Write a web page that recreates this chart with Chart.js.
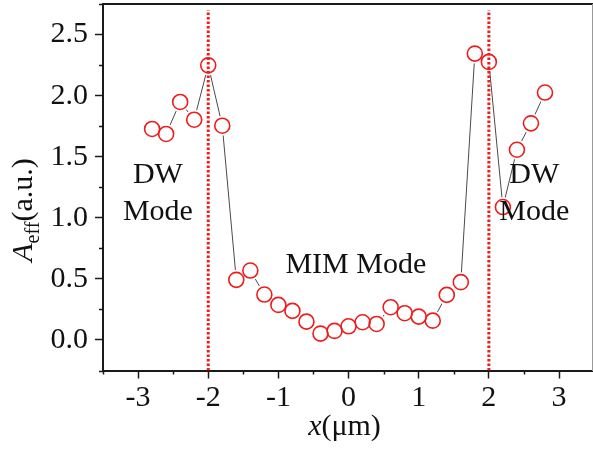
<!DOCTYPE html>
<html>
<head>
<meta charset="utf-8">
<script src="https://cdn.jsdelivr.net/npm/chart.js@4.4.1/dist/chart.umd.min.js"></script>
<style>
    html, body { margin: 0; padding: 0; background: #fff; overflow: hidden; }
    canvas { display: block; }
</style>
</head>
<body>
<canvas id="aeffChart" width="593" height="450"></canvas>
<script>
// Data
const xPositions = [-2.8, -2.6, -2.4, -2.2, -2.0, -1.8, -1.6, -1.4, -1.2, -1.0, -0.8, -0.6, -0.4, -0.2,
    0.0, 0.2, 0.4, 0.6, 0.8, 1.0, 1.2, 1.4, 1.6, 1.8, 2.0, 2.2, 2.4, 2.6, 2.8];
const aeffValues = [1.727, 1.686, 1.948, 1.803, 2.248, 1.754, 0.492, 0.568, 0.372, 0.287, 0.238, 0.150, 0.052, 0.074,
    0.112, 0.145, 0.131, 0.268, 0.219, 0.191, 0.158, 0.369, 0.473, 2.344, 2.276, 1.088, 1.557, 1.773, 2.025];
const xTickValues = [-3, -2, -1, 0, 1, 2, 3];
const yTickValues = [0, 0.5, 1.0, 1.5, 2.0, 2.5];
const boundaryX = [-2, 2];
const boundaryRange = [-0.25, 2.7];
const modeLabels = ['DW', 'Mode', 'MIM Mode', 'DW', 'Mode'];
const modeLabelX = [-2.717, -2.717, 0.104, 2.647, 2.647];
const modeLabelY = [1.287, 0.984, 0.549, 1.287, 0.984];

const RED = '#ee1c1c';
const AXIS = '#1a1a1a';
const SERIF = '"Liberation Serif", "Times New Roman", serif';

Chart.defaults.font.family = SERIF;
Chart.defaults.color = '#111';

const points = xPositions.map((x, i) => ({ x: x, y: aeffValues[i] }));

const boundarySets = boundaryX.map(bx => ({
    data: boundaryRange.map(v => ({ x: bx, y: v })),
    showLine: true,
    borderColor: RED,
    borderWidth: 3,
    borderDash: [2.5, 2],
    pointRadius: 0,
    order: 2
}));

// Minor ticks, axis titles and mode labels
const decorPlugin = {
    id: 'decor',
    afterDraw(chart) {
        const { ctx, chartArea, scales: { x, y } } = chart;
        ctx.save();

        ctx.strokeStyle = AXIS;
        ctx.lineWidth = 1.5;
        ctx.beginPath();
        for (let v = -3.5; v <= 3.5; v += 1) {
            const px = Math.round(x.getPixelForValue(v)) + 0.5;
            if (px > chartArea.right + 1) continue;
            ctx.moveTo(px, chartArea.bottom);
            ctx.lineTo(px, chartArea.bottom + 4);
        }
        for (let v = -0.25; v <= 2.76; v += 0.5) {
            const py = Math.round(y.getPixelForValue(v)) + 0.5;
            ctx.moveTo(chartArea.left, py);
            ctx.lineTo(chartArea.left - 4, py);
        }
        ctx.stroke();

        // mode labels
        ctx.fillStyle = '#111';
        ctx.font = '30px ' + SERIF;
        ctx.textAlign = 'center';
        ctx.textBaseline = 'alphabetic';
        modeLabels.forEach((t, i) => {
            ctx.fillText(t, x.getPixelForValue(modeLabelX[i]), y.getPixelForValue(modeLabelY[i]));
        });

        // x axis title: x(μm)
        ctx.textAlign = 'left';
        const italic = 'italic 30px ' + SERIF;
        const normal = '30px ' + SERIF;
        ctx.font = italic;
        const wx = ctx.measureText('x').width;
        ctx.font = normal;
        const wu = ctx.measureText('(μm)').width;
        const cx = (chartArea.left + chartArea.right) / 2 - 3;
        let sx = cx - (wx + wu) / 2;
        ctx.font = italic;
        ctx.fillText('x', sx, 435);
        ctx.font = normal;
        ctx.fillText('(μm)', sx + wx, 435);

        // y axis title: A_eff(a.u.)
        const sub = '20px ' + SERIF;
        ctx.font = italic;
        const wA = ctx.measureText('A').width;
        ctx.font = sub;
        const wE = ctx.measureText('eff').width;
        ctx.font = normal;
        const wP = ctx.measureText('(a.u.)').width;
        const total = wA + wE + wP;
        const cy = 210;
        ctx.translate(32, cy + total / 2);
        ctx.rotate(-Math.PI / 2);
        ctx.font = italic;
        ctx.fillText('A', 0, 0);
        ctx.font = sub;
        ctx.fillText('eff', wA, 7);
        ctx.font = normal;
        ctx.fillText('(a.u.)', wA + wE, 0);

        ctx.restore();
    }
};

const ctx = document.getElementById('aeffChart').getContext('2d');
new Chart(ctx, {
    type: 'scatter',
    data: {
        datasets: [
            {
                data: points,
                showLine: true,
                borderColor: '#4a4a4a',
                borderWidth: 1,
                pointRadius: 0,
                order: 4
            },
            {
                // white halo so the connecting line stops short of each marker
                data: points,
                showLine: false,
                pointRadius: 10,
                pointBackgroundColor: '#fff',
                pointBorderWidth: 0,
                order: 3
            },
            ...boundarySets,
            {
                data: points,
                showLine: false,
                pointRadius: 7.5,
                pointBackgroundColor: 'rgba(0,0,0,0)',
                pointBorderColor: RED,
                pointBorderWidth: 1.6,
                order: 1
            }
        ]
    },
    options: {
        responsive: false,
        animation: false,
        events: [],
        layout: { padding: 0, autoPadding: false },
        plugins: { legend: { display: false }, tooltip: { enabled: false } },
        scales: {
            x: {
                type: 'linear',
                position: 'bottom',
                min: -3.5,
                max: 3.47,
                afterBuildTicks: s => { s.ticks = xTickValues.map(v => ({ value: v })); },
                ticks: { font: { size: 30 }, color: '#111', padding: 2, maxRotation: 0, autoSkip: false,
                    callback: v => String(v) },
                grid: { drawOnChartArea: false, tickLength: 8, tickColor: AXIS, tickWidth: 1.5 },
                border: { color: AXIS, width: 2 },
                afterFit: s => { s.height = 79.5; s.paddingLeft = 0; s.paddingRight = 0; }
            },
            y: {
                type: 'linear',
                position: 'left',
                min: -0.25,
                max: 2.75,
                afterBuildTicks: s => { s.ticks = yTickValues.map(v => ({ value: v })); },
                ticks: { font: { size: 30 }, color: '#111', padding: 7, autoSkip: false,
                    callback: v => v.toFixed(1) },
                grid: { drawOnChartArea: false, tickLength: 8, tickColor: AXIS, tickWidth: 1.5 },
                border: { color: AXIS, width: 2 },
                afterFit: s => { s.width = 103; s.paddingTop = 0; s.paddingBottom = 0; }
            },
            xTop: {
                type: 'linear',
                position: 'top',
                display: true,
                ticks: { display: false },
                grid: { display: false },
                border: { color: AXIS, width: 2 },
                afterFit: s => { s.height = 4; }
            },
            yRight: {
                type: 'linear',
                position: 'right',
                display: true,
                ticks: { display: false },
                grid: { display: false },
                border: { color: '#999', width: 1 },
                afterFit: s => { s.width = 1; }
            }
        }
    },
    plugins: [decorPlugin]
});
</script>
</body>
</html>
